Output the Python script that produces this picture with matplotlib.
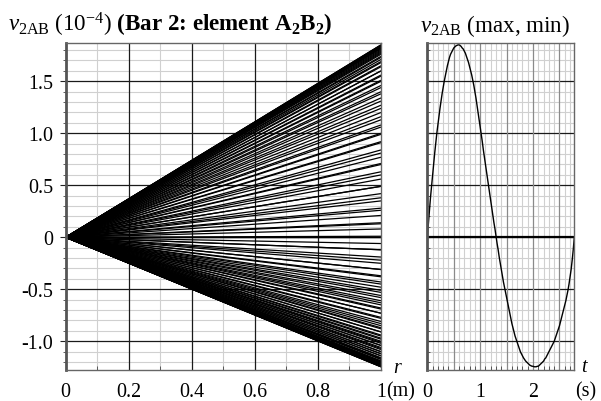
import matplotlib
matplotlib.use("Agg")
import matplotlib.pyplot as plt
from matplotlib.ticker import MultipleLocator, FixedLocator, FixedFormatter

plt.rcParams['font.family'] = ['Liberation Serif', 'DejaVu Serif']
plt.rcParams['mathtext.fontset'] = 'custom'
plt.rcParams['mathtext.rm'] = 'Liberation Serif'
plt.rcParams['mathtext.it'] = 'Liberation Serif:italic'
plt.rcParams['mathtext.bf'] = 'Liberation Serif:bold'

# time samples (s) and v_2AB at the bar tip (1e-4)
t_vals = [
    0.00, 0.02, 0.04, 0.06, 0.08, 0.10, 0.12, 0.14, 0.16, 0.18,
    0.20, 0.22, 0.24, 0.26, 0.28, 0.30, 0.32, 0.34, 0.36, 0.38,
    0.40, 0.42, 0.44, 0.46, 0.48, 0.50, 0.52, 0.54, 0.56, 0.58,
    0.60, 0.62, 0.64, 0.66, 0.68, 0.70, 0.72, 0.74, 0.76, 0.78,
    0.80, 0.82, 0.84, 0.86, 0.88, 0.90, 0.92, 0.94, 0.96, 0.98,
    1.00, 1.02, 1.04, 1.06, 1.08, 1.10, 1.12, 1.14, 1.16, 1.18,
    1.20, 1.22, 1.24, 1.26, 1.28, 1.30, 1.32, 1.34, 1.36, 1.38,
    1.40, 1.42, 1.44, 1.46, 1.48, 1.50, 1.52, 1.54, 1.56, 1.58,
    1.60, 1.62, 1.64, 1.66, 1.68, 1.70, 1.72, 1.74, 1.76, 1.78,
    1.80, 1.82, 1.84, 1.86, 1.88, 1.90, 1.92, 1.94, 1.96, 1.98,
    2.00, 2.02, 2.04, 2.06, 2.08, 2.10, 2.12, 2.14, 2.16, 2.18,
    2.20, 2.22, 2.24, 2.26, 2.28, 2.30, 2.32, 2.34, 2.36, 2.38,
    2.40, 2.42, 2.44, 2.46, 2.48, 2.50, 2.52, 2.54, 2.56, 2.58,
    2.60, 2.62, 2.64, 2.66, 2.68, 2.70, 2.72, 2.74, 2.76, 2.78,
]
v_tip = [
    0.00, 0.13, 0.26, 0.38, 0.49, 0.60, 0.71, 0.81, 0.91, 1.00,
    1.08, 1.16, 1.24, 1.31, 1.38, 1.44, 1.50, 1.55, 1.60, 1.65,
    1.69, 1.73, 1.76, 1.78, 1.80, 1.82, 1.83, 1.84, 1.845, 1.85,
    1.85, 1.845, 1.835, 1.82, 1.81, 1.79, 1.77, 1.74, 1.71, 1.68,
    1.64, 1.60, 1.56, 1.51, 1.46, 1.40, 1.34, 1.27, 1.20, 1.13,
    1.06, 0.99, 0.92, 0.84, 0.77, 0.70, 0.63, 0.56, 0.49, 0.42,
    0.35, 0.28, 0.21, 0.14, 0.08, 0.01, -0.06, -0.12, -0.19, -0.25,
    -0.31, -0.37, -0.43, -0.48, -0.53, -0.58, -0.63, -0.68, -0.73, -0.78,
    -0.83, -0.87, -0.91, -0.95, -0.98, -1.01, -1.04, -1.07, -1.10, -1.12,
    -1.14, -1.16, -1.175, -1.19, -1.20, -1.21, -1.22, -1.23, -1.235, -1.24,
    -1.24, -1.245, -1.245, -1.245, -1.24, -1.24, -1.23, -1.22, -1.21, -1.20,
    -1.19, -1.17, -1.16, -1.14, -1.12, -1.10, -1.08, -1.06, -1.04, -1.02,
    -1.00, -0.97, -0.94, -0.91, -0.88, -0.85, -0.81, -0.77, -0.73, -0.69,
    -0.65, -0.61, -0.56, -0.51, -0.45, -0.38, -0.31, -0.22, -0.12, 0.00,
]
r_span = [0.0, 1.0]

left_xticks = [0.0, 0.2, 0.4, 0.6, 0.8, 1.0]
left_xlabels = ["0", "0.2", "0.4", "0.6", "0.8", "1"]
yticks = [-1.0, -0.5, 0.0, 0.5, 1.0, 1.5]
ylabels = ["-1.0", "-0.5", "0", "0.5", "1.0", "1.5"]
right_xticks = [0, 1, 2]
right_xlabels = ["0", "1", "2"]
right_xgrid = [0.5, 1.0, 1.5, 2.0, 2.5]

FS = 14.4
TFS = 16.6
fig = plt.figure(figsize=(6.01, 4.02), dpi=100)
W, H = 601.0, 402.0

def px_axes(l, t, r, b):
    return fig.add_axes([l / W, 1 - b / H, (r - l) / W, (b - t) / H])

ax1 = px_axes(65.7, 43.5, 381.0, 371.0)
ax2 = px_axes(427.3, 43.5, 574.3, 371.0)
YLIM = (-1.276, 1.873)

for v in v_tip:
    ax1.plot(r_span, [r_span[0] * v, r_span[1] * v], color='black', lw=0.9,
             solid_capstyle='butt', zorder=3)
ax1.set_xlim(0, 1)
ax1.set_ylim(*YLIM)

ax2.plot(t_vals, v_tip, color='black', lw=1.0, zorder=4)
ax2.set_xlim(0, 2.78)
ax2.set_ylim(*YLIM)

minor_c = '#d0d0d0'
for ax in (ax1, ax2):
    ax.yaxis.set_major_locator(FixedLocator(yticks))
    ax.yaxis.set_minor_locator(MultipleLocator(0.1))
    ax.grid(which='minor', color=minor_c, lw=0.8)
    ax.set_axisbelow(True)
    for s in ax.spines.values():
        s.set_color('#666666')
        s.set_linewidth(1.0)
        s.set_zorder(5)
    ax.spines['left'].set_linewidth(2.0)
    ax.spines['left'].set_color('#555555')
    ax.tick_params(axis='x', which='both', direction='in', length=3,
                   color='#444444', labelsize=FS, pad=9)
    ax.tick_params(axis='y', which='major', direction='out', length=4,
                   color='#222222', labelsize=FS, pad=5)
    ax.tick_params(axis='y', which='minor', direction='out', length=2.5,
                   color='#444444')
    for yv in yticks:
        ax.axhline(yv, color='#1a1a1a', lw=0.9, zorder=1)

ax1.xaxis.set_major_locator(FixedLocator(left_xticks))
ax1.xaxis.set_major_formatter(FixedFormatter(left_xlabels))
ax1.xaxis.set_minor_locator(MultipleLocator(0.1))
ax1.yaxis.set_major_formatter(FixedFormatter(ylabels))
ax1.tick_params(axis='x', which='major', length=0)
for xv in left_xticks[1:-1]:
    ax1.axvline(xv, color='#1a1a1a', lw=0.9, zorder=1)

ax2.xaxis.set_major_locator(FixedLocator(right_xgrid))
ax2.xaxis.set_minor_locator(MultipleLocator(0.1))
ax2.xaxis.set_major_formatter(FixedFormatter([]))
ax2.yaxis.set_major_formatter(FixedFormatter([]))
ax2.tick_params(axis='y', which='both', direction='in', length=2.5)
ax2.tick_params(axis='x', which='major', length=0)
for xv in right_xgrid:
    ax2.axvline(xv, color='#8a8a8a', lw=0.9, zorder=1.5)
ax2.axhline(0, color='black', lw=1.6, zorder=2)
for xt, lab in zip(right_xticks, right_xlabels):
    ax2.annotate(lab, xy=(xt, 0), xycoords=('data', 'axes fraction'),
                 xytext=(0, -9), textcoords='offset points',
                 ha='center', va='top', fontsize=FS)

# axis end labels and units
fig.text(397 / W, 1 - 369 / H, "r", fontsize=FS, style='italic',
         ha='center', va='center')
fig.text(386 / W, 1 - 396.7 / H, "(m)", fontsize=FS, ha='left', va='baseline')
fig.text(584 / W, 1 - 368 / H, "t", fontsize=FS, style='italic',
         ha='center', va='center')
fig.text(586 / W, 1 - 396.7 / H, "(s)", fontsize=FS, ha='center', va='baseline')

# titles
fig.text(8 / W, 1 - 31.7 / H,
         r"$v_{\mathrm{2AB}}\ \mathrm{(10^{-4})}$ (Bar 2: element A$_\mathbf{2}$B$_\mathbf{2}$)",
         fontsize=TFS, fontweight='bold', ha='left', va='baseline')
fig.text(420 / W, 1 - 31.7 / H, r"$v_{\mathrm{2AB}}$ (max, min)",
         fontsize=TFS, ha='left', va='baseline')

fig.savefig("out.png", dpi=100)
